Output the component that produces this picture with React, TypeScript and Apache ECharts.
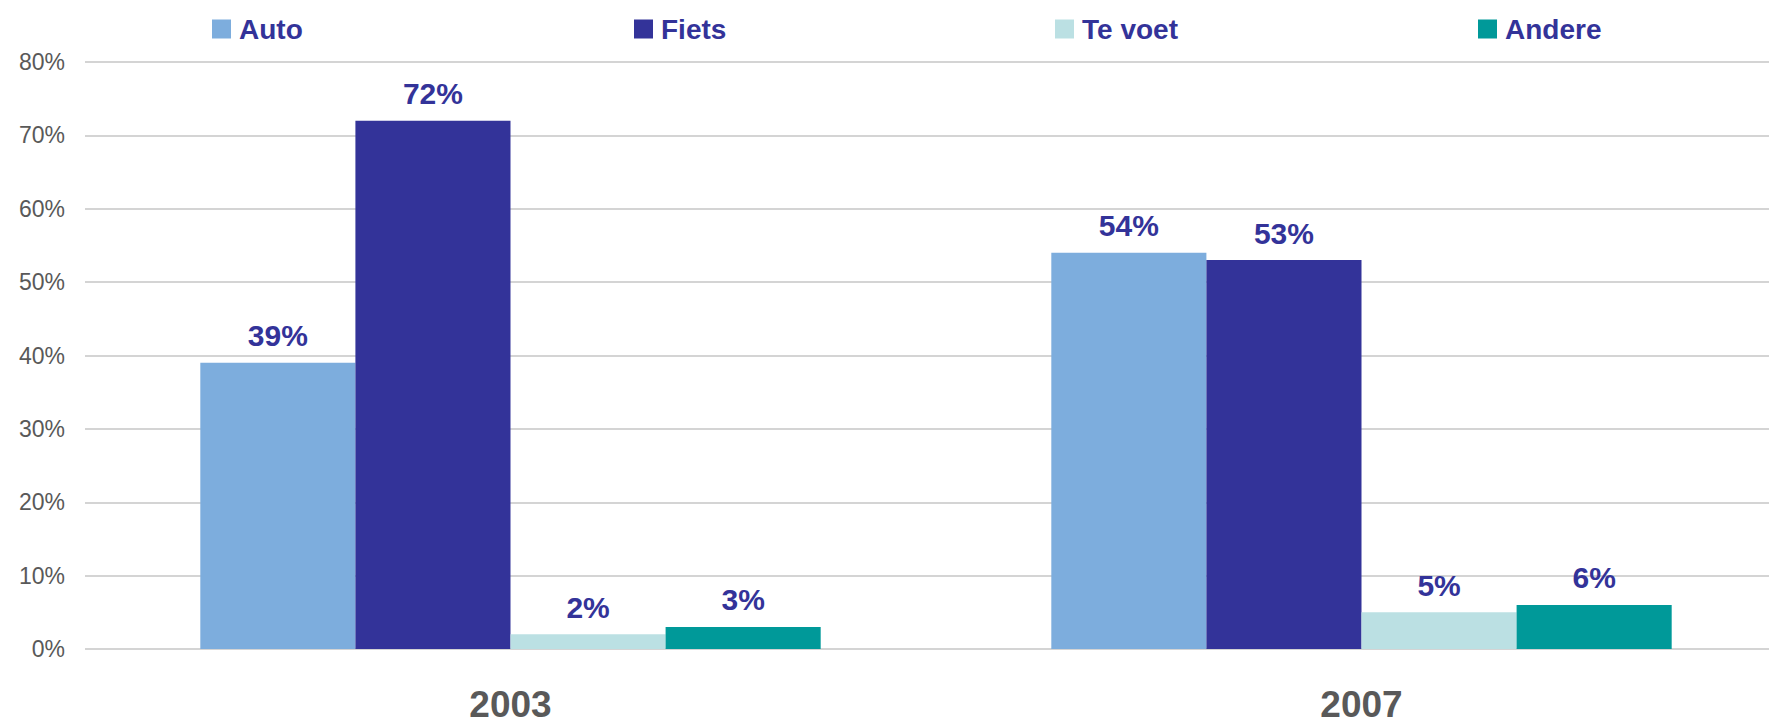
import React, { useEffect, useRef } from "react";
import * as echarts from "echarts";

const categories = ["2003", "2007"];
const seriesNames = ["Auto", "Fiets", "Te voet", "Andere"];
const autoValues = [39, 54];
const fietsValues = [72, 53];
const teVoetValues = [2, 5];
const andereValues = [3, 6];
const yTicks = { min: 0, max: 80, interval: 10 };

const colors = ["#7DADDD", "#333399", "#BBE0E3", "#009999"];
const FONT = "'Liberation Sans', Arial, sans-serif";

export default function App() {
  const ref = useRef<HTMLDivElement>(null);
  useEffect(() => {
    if (!ref.current) return;
    const chart = echarts.init(ref.current, undefined, { renderer: "svg" });
    const allValues = [autoValues, fietsValues, teVoetValues, andereValues];
    const legendLefts = [212, 634, 1055, 1478];
    chart.setOption({
      animation: false,
      backgroundColor: "#ffffff",
      textStyle: { fontFamily: FONT },
      legend: seriesNames.map((name, i) => ({
        data: [name],
        left: legendLefts[i],
        top: 15,
        padding: 0,
        itemWidth: 19,
        itemHeight: 19,
        itemGap: 0,
        icon: "rect",
        selectedMode: false,
        textStyle: {
          color: "#333399",
          fontSize: 28,
          fontWeight: "bold",
          fontFamily: FONT,
          padding: [0, 0, 0, 3],
        },
      })),
      grid: {
        left: 85,
        width: 1702,
        top: 62,
        bottom: 74,
        containLabel: false,
        outerBoundsMode: "none",
      },
      xAxis: {
        type: "category",
        data: categories,
        axisLine: { show: false },
        axisTick: { show: false },
        axisLabel: {
          color: "#595959",
          fontSize: 37,
          lineHeight: 30,
          fontWeight: "bold",
          fontFamily: FONT,
          margin: 40,
        },
      },
      yAxis: {
        type: "value",
        min: yTicks.min,
        max: yTicks.max,
        interval: yTicks.interval,
        axisLine: { show: false },
        axisTick: { show: false },
        axisLabel: {
          formatter: "{value}%",
          color: "#595959",
          fontSize: 23,
          fontFamily: FONT,
          margin: 20,
        },
        splitLine: { lineStyle: { color: "#D4D4D4", width: 2 } },
      },
      series: seriesNames.map((name, i) => ({
        name,
        type: "bar",
        data: allValues[i],
        barGap: "0%",
        barCategoryGap: "27.1%",
        itemStyle: { color: colors[i] },
        label: {
          show: true,
          position: "top",
          distance: 12,
          formatter: "{c}%",
          color: "#333399",
          fontSize: 30,
          fontWeight: "bold",
          fontFamily: FONT,
        },
      })),
    });
    return () => chart.dispose();
  }, []);
  return (
    <div
      ref={ref}
      style={{ position: "fixed", left: 0, top: 0, width: 1769, height: 723 }}
    />
  );
}
